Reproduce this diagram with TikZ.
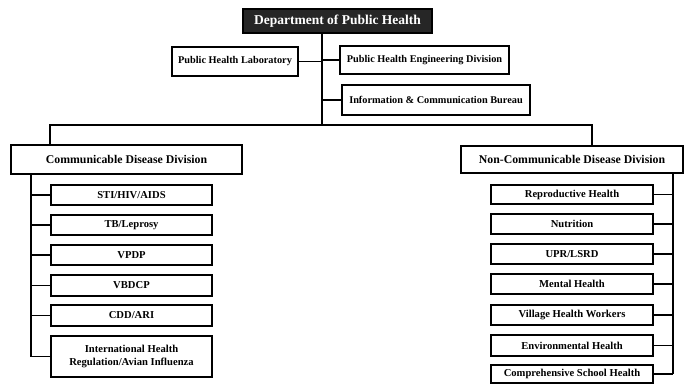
\documentclass[tikz,border=0pt]{standalone}
\usepackage{fontspec}
\setmainfont{Liberation Serif}
\begin{document}
\begin{tikzpicture}[x=1pt,y=-1pt,
  box/.style={draw=black,line width=1.2pt,fill=white,inner sep=0pt,font=\bfseries\fontsize{10.6}{12.6}\selectfont,align=center},
  upbox/.style={box,font=\bfseries\fontsize{10.3}{12}\selectfont},
  divbox/.style={box,font=\bfseries\fontsize{11.8}{13}\selectfont},
  headbox/.style={box,fill=black!85,text=white,font=\bfseries\fontsize{13.5}{15}\selectfont},
  conn/.style={draw=black,line width=1.2pt}]
\useasboundingbox (0,0) rectangle (684,383);
% top level
\node[headbox,minimum width=189pt,minimum height=24pt] (top) at (337.5,21) {Department of Public Health};
\node[upbox,minimum width=126pt,minimum height=29pt] (lab) at (235,61.5) {Public Health Laboratory};
\node[upbox,minimum width=169pt,minimum height=28pt] (eng) at (424.5,60) {Public Health Engineering Division};
\node[upbox,minimum width=188pt,minimum height=30pt] (info) at (436,100) {Information \& Communication Bureau};
\coordinate (trunk) at (322,125);
\coordinate (barL) at (50,125);
\coordinate (barR) at (592,125);
% divisions
\node[divbox,minimum width=231pt,minimum height=29pt] (comm) at (126.5,159.5) {Communicable Disease Division};
\node[divbox,minimum width=222pt,minimum height=27pt] (ncomm) at (572,159.5) {Non-Communicable Disease Division};
% left items
\coordinate (lsp) at (31,0);
\node[box,minimum width=161pt,minimum height=20pt] (sti) at (131.5,195) {STI/HIV/AIDS};
\node[box,minimum width=161pt,minimum height=20pt] (tb) at (131.5,225) {TB/Leprosy};
\node[box,minimum width=161pt,minimum height=20pt] (vpdp) at (131.5,255) {VPDP};
\node[box,minimum width=161pt,minimum height=21pt] (vbdcp) at (131.5,285.5) {VBDCP};
\node[box,minimum width=161pt,minimum height=21pt] (cdd) at (131.5,315.5) {CDD/ARI};
\node[box,minimum width=161pt,minimum height=41pt] (intl) at (131.5,356.5) {International Health\\Regulation/Avian Influenza};
% right items
\coordinate (rsp) at (673,0);
\node[box,minimum width=162pt,minimum height=19pt] (rep) at (572,194.5) {Reproductive Health};
\node[box,minimum width=162pt,minimum height=20pt] (nut) at (572,224) {Nutrition};
\node[box,minimum width=162pt,minimum height=20pt] (upr) at (572,254) {UPR/LSRD};
\node[box,minimum width=162pt,minimum height=20pt] (men) at (572,284) {Mental Health};
\node[box,minimum width=162pt,minimum height=20pt] (vil) at (572,315) {Village Health Workers};
\node[box,minimum width=162pt,minimum height=21pt] (env) at (572,345.5) {Environmental Health};
\node[box,minimum width=162pt,minimum height=18pt] (comp) at (572,374) {Comprehensive School Health};
% connectors
\draw[conn] (top.south -| trunk) -- (trunk);
\draw[conn] (lab.east) -- (lab.east -| trunk);
\draw[conn] (eng.west) -- (eng.west -| trunk);
\draw[conn] (info.west) -- (info.west -| trunk);
\draw[conn] (comm.north -| barL) -- (barL) -- (barR) -- (ncomm.north -| barR);
\draw[conn] (comm.south -| lsp) -- (intl.west -| lsp);
\foreach \n in {sti,tb,vpdp,vbdcp,cdd,intl}{\draw[conn] (\n.west) -- (\n.west -| lsp);}
\draw[conn] (ncomm.south -| rsp) -- (comp.east -| rsp);
\foreach \n in {rep,nut,upr,men,vil,env,comp}{\draw[conn] (\n.east) -- (\n.east -| rsp);}
\end{tikzpicture}
\end{document}
